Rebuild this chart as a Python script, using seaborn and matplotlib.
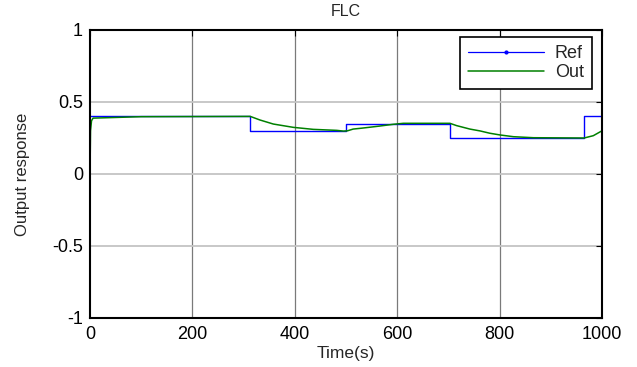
import matplotlib
matplotlib.use("Agg")
import matplotlib.pyplot as plt
from matplotlib.lines import Line2D
import numpy as np
import pandas as pd
import seaborn as sns

# Reference (set-point) signal: piecewise-constant levels
ref_time = [0, 313, 500, 703, 965, 1000]
ref_value = [0.40, 0.30, 0.35, 0.25, 0.40, 0.40]

# Controller output response
out_time = [0, 1, 3, 6, 100, 313, 332, 358, 397, 436, 482, 495, 503, 514,
            530, 547, 566, 592, 612, 703, 716, 742, 762, 781, 801, 827, 866,
            965, 983, 1000]
out_value = [0.0, 0.30, 0.37, 0.388, 0.398, 0.40, 0.375, 0.347, 0.324, 0.31,
             0.303, 0.298, 0.30, 0.312, 0.318, 0.325, 0.333, 0.345, 0.352,
             0.352, 0.336, 0.312, 0.299, 0.283, 0.271, 0.259, 0.252, 0.25,
             0.266, 0.30]

x_ticks = [0, 200, 400, 600, 800, 1000]
y_ticks = [-1, -0.5, 0, 0.5, 1]
y_tick_labels = ["-1", "-0.5", "0", "0.5", "1"]

sns.set_style("white")
plt.rcParams["font.family"] = ["Liberation Sans", "DejaVu Sans"]
plt.rcParams["axes.unicode_minus"] = False

ref_df = pd.DataFrame({"t": ref_time, "v": ref_value})
out_df = pd.DataFrame({"t": out_time, "v": out_value})

fig = plt.figure(figsize=(6.37, 3.67), dpi=100)
ax = fig.add_axes([90 / 637, 1 - 318 / 367, 512 / 637, 288 / 367])

# grid: vertical lines darker than horizontal ones
for xt in x_ticks[1:-1]:
    ax.axvline(xt, color="#7a7a7a", lw=0.9, zorder=0)
for yt in y_ticks[1:-1]:
    ax.axhline(yt, color="#c4c4c4", lw=1.3, zorder=0)

sns.lineplot(data=ref_df, x="t", y="v", ax=ax, color="#0000ff", lw=1.0,
             drawstyle="steps-post", estimator=None, sort=False)
sns.lineplot(data=out_df, x="t", y="v", ax=ax, color="#008000", lw=1.1,
             estimator=None, sort=False)

ax.set_xlim(0, 1000)
ax.set_ylim(-1, 1)
ax.set_xticks(x_ticks)
ax.set_xticklabels([str(v) for v in x_ticks])
ax.set_yticks(y_ticks)
ax.set_yticklabels(y_tick_labels)
ax.tick_params(direction="in", length=4, width=0.8, labelsize=13,
               top=True, right=True, colors="black")
ax.tick_params(axis="x", pad=6)
ax.tick_params(axis="y", pad=5)
for s in ax.spines.values():
    s.set_visible(True)
    s.set_color("black")
    s.set_linewidth(1.5)

ax.set_title("FLC", fontsize=11.5, pad=10)
ax.set_xlabel("Time(s)", fontsize=12.5, labelpad=2)
ax.set_ylabel("Output response", fontsize=12, labelpad=16)

handles = [
    Line2D([], [], color="#0000ff", lw=0.9, marker=".", markersize=4),
    Line2D([], [], color="#008000", lw=1.1),
]
leg = ax.legend(handles, ["Ref", "Out"], loc="upper right",
                bbox_to_anchor=(0.980, 0.976), borderaxespad=0,
                fontsize=13, handlelength=4.2, handletextpad=0.6,
                labelspacing=0.12, borderpad=0.45, fancybox=False,
                framealpha=1, edgecolor="black", numpoints=1)
leg.get_frame().set_linewidth(1.2)

fig.savefig("out.png", dpi=100)
